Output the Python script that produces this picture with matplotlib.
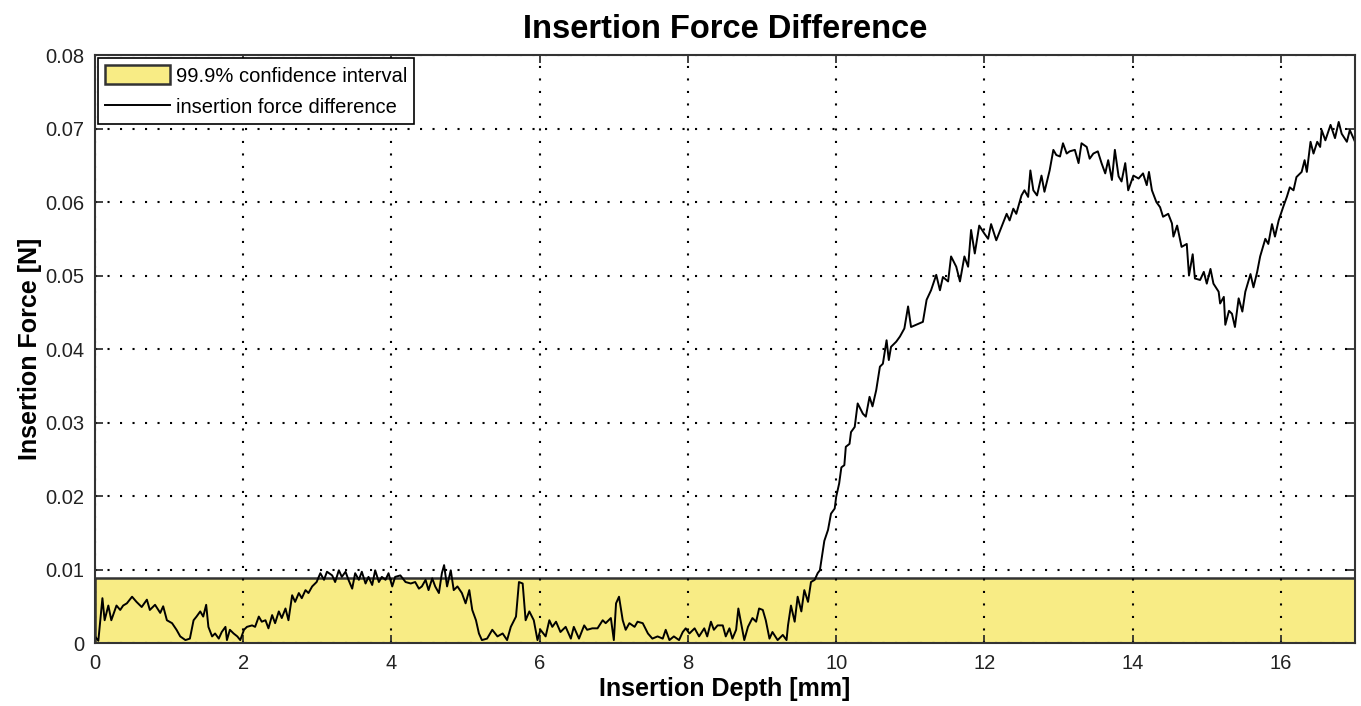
import numpy as np
import matplotlib
matplotlib.use('Agg')
import matplotlib.pyplot as plt

plt.rcParams['font.family'] = ['Liberation Sans', 'DejaVu Sans']

# insertion depth [mm] and force difference [mN]
depth = [0.00, 0.045, 0.10, 0.13, 0.18, 0.22, 0.29, 0.34, 0.38, 0.43, 0.50, 0.56, 0.63, 0.70, 0.74,
         0.81, 0.88, 0.92, 0.97, 1.04, 1.10, 1.15, 1.22, 1.28, 1.33, 1.37, 1.42, 1.46, 1.50, 1.53,
         1.58, 1.62, 1.67, 1.71, 1.76, 1.78, 1.82, 1.87, 1.92, 1.96, 2.01, 2.05, 2.12, 2.16, 2.21,
         2.25, 2.30, 2.34, 2.39, 2.43, 2.48, 2.52, 2.57, 2.61, 2.66, 2.70, 2.75, 2.79, 2.84, 2.88,
         2.93, 2.99, 3.04, 3.09, 3.13, 3.20, 3.24, 3.29, 3.33, 3.38, 3.42, 3.47, 3.51, 3.56, 3.60,
         3.65, 3.69, 3.74, 3.78, 3.83, 3.87, 3.92, 3.96, 4.01, 4.05, 4.12, 4.19, 4.26, 4.32, 4.37,
         4.41, 4.46, 4.50, 4.55, 4.59, 4.64, 4.68, 4.71, 4.75, 4.80, 4.84, 4.89, 4.95, 5.00, 5.05,
         5.09, 5.14, 5.18, 5.22, 5.29, 5.36, 5.43, 5.50, 5.56, 5.61, 5.68, 5.72, 5.77, 5.81, 5.86,
         5.92, 5.97, 6.01, 6.08, 6.13, 6.17, 6.22, 6.28, 6.35, 6.42, 6.46, 6.53, 6.60, 6.64, 6.71,
         6.78, 6.85, 6.89, 6.96, 7.00, 7.03, 7.07, 7.12, 7.16, 7.21, 7.28, 7.32, 7.39, 7.46, 7.52,
         7.59, 7.66, 7.70, 7.75, 7.81, 7.88, 7.93, 7.97, 8.02, 8.09, 8.15, 8.22, 8.26, 8.31, 8.35,
         8.40, 8.47, 8.51, 8.56, 8.60, 8.65, 8.68, 8.71, 8.76, 8.81, 8.87, 8.92, 8.96, 9.01, 9.05,
         9.10, 9.14, 9.21, 9.28, 9.33, 9.35, 9.39, 9.44, 9.48, 9.53, 9.57, 9.62, 9.66, 9.71, 9.75,
         9.78, 9.84, 9.89, 9.93, 9.98, 10.00, 10.04, 10.07, 10.11, 10.13, 10.18, 10.20, 10.25, 10.29, 10.36,
         10.40, 10.45, 10.49, 10.54, 10.59, 10.63, 10.68, 10.71, 10.74, 10.81, 10.86, 10.92, 10.97, 11.01, 11.08,
         11.17, 11.22, 11.28, 11.35, 11.40, 11.44, 11.51, 11.55, 11.62, 11.67, 11.73, 11.78, 11.82, 11.87, 11.93,
         12.00, 12.05, 12.09, 12.16, 12.23, 12.30, 12.34, 12.39, 12.43, 12.50, 12.54, 12.59, 12.62, 12.66, 12.71,
         12.77, 12.81, 12.88, 12.93, 12.97, 13.02, 13.06, 13.11, 13.15, 13.22, 13.27, 13.31, 13.38, 13.42, 13.47,
         13.53, 13.58, 13.63, 13.67, 13.72, 13.76, 13.81, 13.85, 13.90, 13.94, 14.01, 14.08, 14.14, 14.19, 14.22,
         14.26, 14.32, 14.37, 14.41, 14.48, 14.53, 14.55, 14.60, 14.66, 14.73, 14.76, 14.81, 14.84, 14.91, 14.96,
         15.00, 15.05, 15.09, 15.16, 15.18, 15.23, 15.25, 15.30, 15.34, 15.38, 15.43, 15.48, 15.52, 15.59, 15.63,
         15.68, 15.72, 15.79, 15.83, 15.88, 15.92, 15.97, 16.03, 16.08, 16.12, 16.17, 16.21, 16.28, 16.32, 16.35,
         16.40, 16.44, 16.49, 16.53, 16.55, 16.60, 16.67, 16.73, 16.78, 16.82, 16.89, 16.93, 17.00]
force_mN = [0.9, 0.3, 6.1, 3.1, 5.1, 3.1, 5.1, 4.5, 5.1, 5.4, 6.3, 5.6, 4.9, 5.9, 4.5,
            5.2, 4.1, 5.0, 3.1, 2.7, 1.8, 0.9, 0.4, 0.6, 3.1, 3.6, 4.3, 3.6, 5.2, 2.2,
            0.9, 1.3, 0.6, 1.5, 2.2, 0.4, 1.8, 1.3, 0.9, 0.4, 1.8, 2.2, 2.4, 2.2, 3.6,
            2.9, 3.1, 2.0, 3.8, 2.7, 4.3, 3.4, 4.7, 3.1, 6.5, 5.6, 6.8, 6.1, 7.2, 6.8,
            7.7, 8.3, 9.5, 8.6, 9.7, 9.2, 8.3, 9.9, 9.0, 9.7, 8.6, 7.4, 9.5, 8.6, 9.7,
            8.1, 9.0, 7.9, 9.9, 8.3, 9.0, 8.6, 9.5, 7.7, 9.0, 9.2, 8.3, 8.1, 8.3, 7.4,
            7.7, 8.6, 7.2, 8.8, 7.7, 6.8, 9.5, 10.6, 7.7, 9.9, 7.2, 7.7, 6.8, 5.4, 7.2,
            4.5, 3.1, 1.3, 0.4, 0.6, 1.8, 0.9, 1.3, 0.4, 2.2, 3.6, 8.3, 8.1, 3.1, 4.3,
            3.1, 0.4, 1.8, 0.9, 3.1, 2.2, 2.9, 1.5, 2.2, 0.6, 2.2, 0.6, 2.4, 1.8, 2.0,
            2.0, 3.1, 2.7, 3.4, 0.4, 5.4, 6.3, 3.1, 1.8, 2.7, 2.2, 2.9, 2.7, 1.3, 0.6,
            0.9, 0.6, 1.8, 0.4, 0.9, 0.4, 1.5, 2.0, 1.3, 2.0, 0.9, 2.0, 0.9, 2.9, 1.8,
            2.4, 2.4, 0.9, 2.0, 0.6, 1.8, 4.7, 3.1, 0.4, 2.2, 3.4, 2.9, 4.7, 4.5, 3.1,
            0.6, 1.5, 0.4, 1.1, 0.4, 2.4, 5.1, 2.9, 6.3, 4.3, 7.2, 5.6, 8.3, 8.6, 9.5,
            9.9, 13.9, 15.4, 17.6, 18.3, 19.9, 21.7, 23.9, 24.2, 26.7, 27.1, 28.7, 29.4, 32.6, 31.2,
            30.8, 33.5, 32.2, 34.4, 37.6, 38.0, 41.2, 38.5, 40.3, 41.0, 41.7, 42.8, 45.8, 43.0, 43.3,
            43.7, 46.7, 48.0, 50.1, 48.0, 49.8, 49.2, 52.6, 51.2, 49.2, 52.6, 51.2, 56.2, 53.0, 56.8,
            55.7, 55.0, 57.0, 54.8, 56.6, 58.4, 57.5, 59.1, 58.4, 60.9, 61.6, 60.7, 64.3, 61.6, 60.9,
            63.6, 61.4, 64.3, 67.1, 66.4, 66.2, 68.0, 66.6, 66.9, 67.1, 65.3, 68.0, 67.5, 65.9, 66.6,
            66.9, 65.3, 63.9, 65.7, 63.0, 67.1, 63.5, 62.8, 65.3, 61.6, 63.6, 63.2, 63.9, 62.3, 64.1,
            61.6, 60.0, 59.3, 58.0, 58.4, 57.1, 55.3, 56.8, 53.9, 54.3, 50.0, 52.9, 49.6, 49.4, 50.5,
            48.9, 50.9, 48.9, 47.8, 46.2, 47.1, 43.3, 45.2, 44.8, 43.0, 46.9, 45.1, 47.8, 50.2, 48.4,
            50.5, 52.6, 55.0, 54.3, 57.0, 55.3, 57.5, 59.3, 60.7, 62.0, 61.6, 63.4, 64.1, 65.7, 64.1,
            68.2, 66.6, 68.2, 67.5, 69.8, 68.4, 70.5, 68.7, 70.9, 69.3, 68.2, 69.8, 68.2]

ci_upper = 0.0089        # 99.9% confidence bound [N]
ci_span = [0, 17]

force = np.array(force_mN) / 1000.0

fig = plt.figure(figsize=(13.61, 7.06), dpi=100)
ax = fig.add_axes([0.0698, 0.0892, 0.9258, 0.8328])

band = ax.fill_between(ci_span, 0, ci_upper, facecolor='#F8EC85', edgecolor='#333333',
                       linewidth=1.8, label='99.9% confidence interval', zorder=1)
ax.plot(depth, force, color='black', linewidth=1.4, label='insertion force difference', zorder=3)

ax.set_xlim(0, 17)
ax.set_ylim(0, 0.08)
ax.set_xticks(np.arange(0, 17, 2))
ax.set_yticks(np.arange(0, 0.081, 0.01))
ax.set_yticklabels(['0', '0.01', '0.02', '0.03', '0.04', '0.05', '0.06', '0.07', '0.08'])

ax.grid(True, color='black', linestyle=(0, (1, 5)), linewidth=1.5, zorder=2)
ax.set_axisbelow(False)
ax.tick_params(direction='in', length=6, width=1.2, top=True, right=True, labelsize=14.5,
               colors='#222222', pad=8)
for s in ax.spines.values():
    s.set_linewidth(1.5)
    s.set_color('#333333')
    s.set_zorder(4)

ax.set_title('Insertion Force Difference', fontsize=23.5, fontweight='bold', pad=12)
ax.set_xlabel('Insertion Depth [mm]', fontsize=18, fontweight='bold', labelpad=3)
ax.set_ylabel('Insertion Force [N]', fontsize=18, fontweight='bold', labelpad=2)

leg = ax.legend(loc='upper left', fontsize=14.5, fancybox=False, framealpha=1, edgecolor='black',
                borderaxespad=0.15, handlelength=3.2, handleheight=1.1, borderpad=0.35,
                labelspacing=0.55, handletextpad=0.3)
leg.get_frame().set_linewidth(1.2)
leg.set_zorder(5)

fig.savefig('out.png', dpi=100)
